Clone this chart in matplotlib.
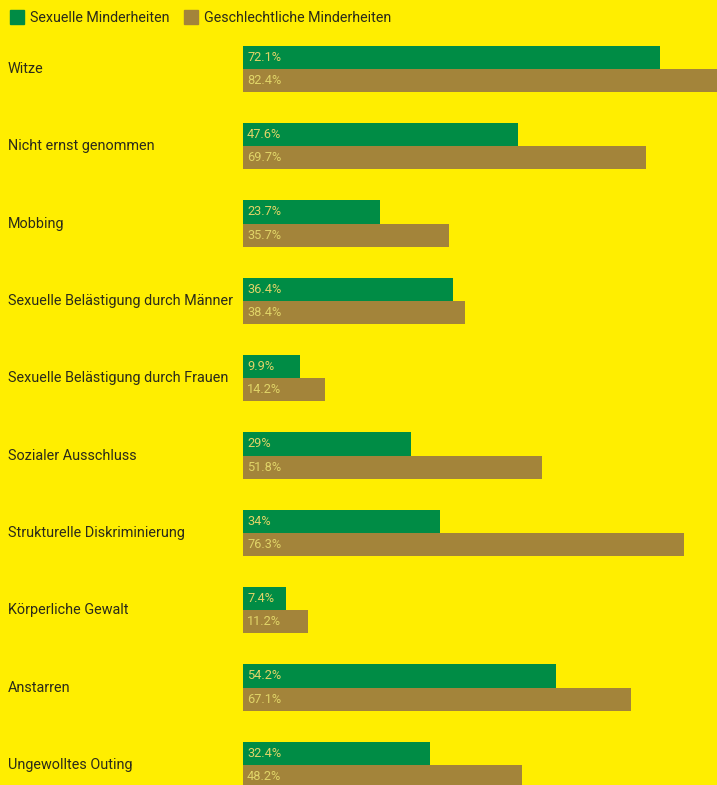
import matplotlib.pyplot as plt
import matplotlib.patches as mpatches

plt.rcParams['font.family'] = ['Roboto', 'DejaVu Sans']

categories = ['Witze', 'Nicht ernst genommen', 'Mobbing',
              'Sexuelle Belästigung durch Männer',
              'Sexuelle Belästigung durch Frauen', 'Sozialer Ausschluss',
              'Strukturelle Diskriminierung', 'Körperliche Gewalt',
              'Anstarren', 'Ungewolltes Outing']
sexuelle = [72.1, 47.6, 23.7, 36.4, 9.9, 29, 34, 7.4, 54.2, 32.4]
geschlechtliche = [82.4, 69.7, 35.7, 38.4, 14.2, 51.8, 76.3, 11.2, 67.1, 48.2]
series_names = ['Sexuelle Minderheiten', 'Geschlechtliche Minderheiten']

bg = '#FFEE00'
green = '#008C45'
gold = '#A3843A'
textc = '#2b2b1a'
valc = '#E0D468'

def fmt(v):
    s = ('%.1f' % v).rstrip('0').rstrip('.')
    return s + '%'

fig = plt.figure(figsize=(7.17, 7.85), dpi=100)
fig.patch.set_facecolor(bg)
ax = fig.add_axes([243 / 717, 0, 1 - 243 / 717, 1])
ax.set_facecolor(bg)

h = 0.3
pos = list(range(len(categories)))
ax.barh([p - h / 2 for p in pos], sexuelle, height=h, color=green)
ax.barh([p + h / 2 for p in pos], geschlechtliche, height=h, color=gold)

for p, a, b in zip(pos, sexuelle, geschlechtliche):
    ax.text(0.7, p - h / 2, fmt(a), color=valc, fontsize=9.2, va='center', ha='left')
    ax.text(0.7, p + h / 2, fmt(b), color=valc, fontsize=9.2, va='center', ha='left')

ax.set_xlim(0, 82)
ax.set_ylim(9.26, -0.89)
ax.axis('off')

for p, c in zip(pos, categories):
    y = 1 - (69 + 77.35 * p) / 785
    fig.text(8 / 717, y, c, fontsize=10.4, color=textc, va='center', ha='left')

handles = [mpatches.Patch(color=green, label=series_names[0]),
           mpatches.Patch(color=gold, label=series_names[1])]
fig.legend(handles=handles, loc='upper left', bbox_to_anchor=(0.0, 1.0),
           ncol=2, frameon=False, fontsize=10.3, handlelength=1.0,
           handleheight=1.1, handletextpad=0.4, columnspacing=1.0,
           borderaxespad=0.3, labelcolor=textc)

fig.savefig('out.png', dpi=100, facecolor=bg)
